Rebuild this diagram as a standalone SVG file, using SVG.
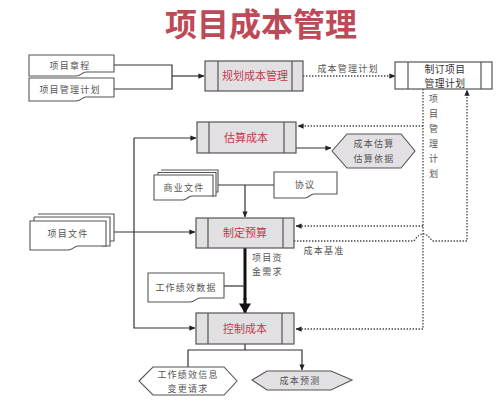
<svg xmlns="http://www.w3.org/2000/svg" width="500" height="402" viewBox="0 0 500 402">
<defs>
<marker id="ah" viewBox="0 0 8 8" refX="7.5" refY="4" markerWidth="6" markerHeight="6" markerUnits="userSpaceOnUse" orient="auto"><path d="M0,0.5 L8,4 L0,7.5 Z" fill="#222"/></marker>
<marker id="ahb" viewBox="0 0 10 12" refX="9.5" refY="6" markerWidth="11" markerHeight="12" markerUnits="userSpaceOnUse" orient="auto"><path d="M0,0 L10,6 L0,12 Z" fill="#111"/></marker>
<style>
.proc{fill:#e3e0e3;stroke:#555;stroke-width:1.2}
.procw{fill:#fff;stroke:#555;stroke-width:1.2}
.in{stroke:#555;stroke-width:1.2}
.doc{fill:#fff;stroke:#555;stroke-width:1.1}
.hexg{fill:#e3e0e3;stroke:#555;stroke-width:1.1}
.hexw{fill:#fff;stroke:#555;stroke-width:1.1}
.ln{fill:none;stroke:#333;stroke-width:1.2}
.dot{fill:none;stroke:#444;stroke-width:1.3;stroke-dasharray:1.4 1.6}
.pt{font-family:"Noto Sans CJK SC","Noto Sans CJK JP",sans-serif;font-size:11px;fill:#c23a4c;text-anchor:middle}
.bt{font-family:"Noto Sans CJK SC","Noto Sans CJK JP",sans-serif;font-size:9.8px;fill:#333;text-anchor:middle;letter-spacing:0.5px}
.lb{font-family:"Noto Sans CJK SC","Noto Sans CJK JP",sans-serif;font-size:9px;fill:#555;letter-spacing:1.2px;text-anchor:middle}
.lbl{font-family:"Noto Sans CJK SC","Noto Sans CJK JP",sans-serif;font-size:9px;fill:#555;letter-spacing:1.2px}
</style>
</defs>
<rect width="500" height="402" fill="#fff"/>
<text x="261" y="36" font-family="'Noto Sans CJK SC','Noto Sans CJK JP',sans-serif" font-size="32" font-weight="bold" fill="#bc4a57" text-anchor="middle">项目成本管理</text>

<g id="connectors">
<path class="ln" d="M114,65 H172 V89 H114"/>
<path class="ln" d="M172,76 H204" marker-end="url(#ah)"/>
<path class="dot" d="M303,76 H395" marker-end="url(#ah)"/>
<text class="lb" x="348" y="72">成本管理计划</text>
<path class="ln" d="M134,138 H196" marker-end="url(#ah)"/>
<path class="ln" d="M134,138 V328 H195" marker-end="url(#ah)"/>
<path class="ln" d="M114,232 H195" marker-end="url(#ah)"/>
<path class="ln" d="M296,148 H331" marker-end="url(#ah)"/>
<path class="ln" d="M218,185 H274"/>
<path class="ln" d="M245,185 V217" marker-end="url(#ah)"/>
<path d="M245,248 V300" fill="none" stroke="#111" stroke-width="3"/>
<path d="M245,298 V313" fill="none" stroke="#111" stroke-width="3" marker-end="url(#ahb)"/>
<path class="ln" d="M224,286 H245"/>
<text class="lbl" x="252" y="261">项目资</text>
<text class="lbl" x="252" y="275">金需求</text>
<path class="ln" d="M245,344 V350 H188 V376" marker-end="url(#ah)"/>
<path class="ln" d="M245,350 H302 V370" marker-end="url(#ah)"/>
<path class="dot" d="M423,89 V329 H296" marker-end="url(#ah)"/>
<path class="dot" d="M423,126 H298" marker-end="url(#ah)"/>
<path class="dot" d="M423,226 H296" marker-end="url(#ah)"/>
<path class="dot" d="M294,241 H414 Q423,227 432,241 H467 V90" marker-end="url(#ah)"/>
<text class="lb" x="324" y="254">成本基准</text>
<text class="lb" x="434" y="102">项</text>
<text class="lb" x="434" y="117">目</text>
<text class="lb" x="434" y="132">管</text>
<text class="lb" x="434" y="147">理</text>
<text class="lb" x="434" y="162">计</text>
<text class="lb" x="434" y="177">划</text>
</g>

<g id="doc-charter">
<path class="doc" d="M29,55 H114 V72 H86 C82,72 81,76 76,76 H29 Z"/>
<text class="lb" x="70" y="69">项目章程</text>
</g>
<g id="doc-pmplan">
<path class="doc" d="M29,78 H114 V97 H86 C82,97 81,101 76,101 H29 Z"/>
<text class="lb" x="70" y="93">项目管理计划</text>
</g>
<g id="doc-projdocs">
<path class="doc" d="M38,214 H114 V241 H106"/>
<path class="doc" d="M34,217 H110 V246 H102 M34,217 V221"/>
<path class="doc" d="M30,221 H106 V246 H78 C74,246 73,250 68,250 H30 Z"/>
<text class="lb" x="68" y="237">项目文件</text>
</g>
<g id="doc-business">
<path class="doc" d="M161,170 H218 V192 H214"/>
<path class="doc" d="M158,172.5 H216 V196 H212 M158,172.5 V175"/>
<path class="doc" d="M154,175 H213 V196 H192 C188,196 187,200 183,200 H154 Z"/>
<text class="lb" x="184" y="191">商业文件</text>
</g>
<g id="doc-agreement">
<path class="doc" d="M274,172 H337 V194 H314 C310,194 309,198 305,198 H274 Z"/>
<text class="lb" x="305" y="188">协议</text>
</g>
<g id="doc-workdata">
<path class="doc" d="M148,273 H224 V298 H200 C196,298 195,302 190,302 H148 Z"/>
<text class="lb" x="186" y="291">工作绩效数据</text>
</g>

<g id="plan-cost">
<rect class="proc" x="205" y="61" width="98" height="30"/>
<path class="in" d="M218,61 V91 M292,61 V91"/>
<text class="pt" x="255" y="80">规划成本管理</text>
</g>
<g id="pm-plan">
<rect class="procw" x="395" y="62" width="97" height="27"/>
<path class="in" d="M408,62 V89 M481,62 V89"/>
<text class="bt" x="445" y="72.5">制订项目</text>
<text class="bt" x="445" y="87">管理计划</text>
</g>
<g id="estimate">
<rect class="proc" x="197" y="122" width="99" height="31"/>
<path class="in" d="M209,122 V153 M284,122 V153"/>
<text class="pt" x="246" y="142">估算成本</text>
</g>
<g id="estimates-out">
<path class="hexg" d="M332,151 L347,134 H401 L415,151 L401,168 H347 Z"/>
<text class="lb" x="374" y="147">成本估算</text>
<text class="lb" x="374" y="162">估算依据</text>
</g>
<g id="budget">
<rect class="proc" x="196" y="218" width="98" height="30"/>
<path class="in" d="M208,218 V248 M283,218 V248"/>
<text class="pt" x="245" y="237">制定预算</text>
</g>
<g id="control">
<rect class="proc" x="196" y="313" width="98" height="31"/>
<path class="in" d="M208,313 V344 M282,313 V344"/>
<text class="pt" x="245" y="333">控制成本</text>
</g>
<g id="workinfo">
<path class="hexw" d="M139,381 L153,367 H224 L237,381 L224,395 H153 Z"/>
<text class="lb" x="188" y="378">工作绩效信息</text>
<text class="lb" x="188" y="392">变更请求</text>
</g>
<g id="forecast">
<path class="hexg" d="M252,380 L267,371 H331 L352,380 L331,390 H267 Z"/>
<text class="lb" x="300" y="384">成本预测</text>
</g>
</svg>
